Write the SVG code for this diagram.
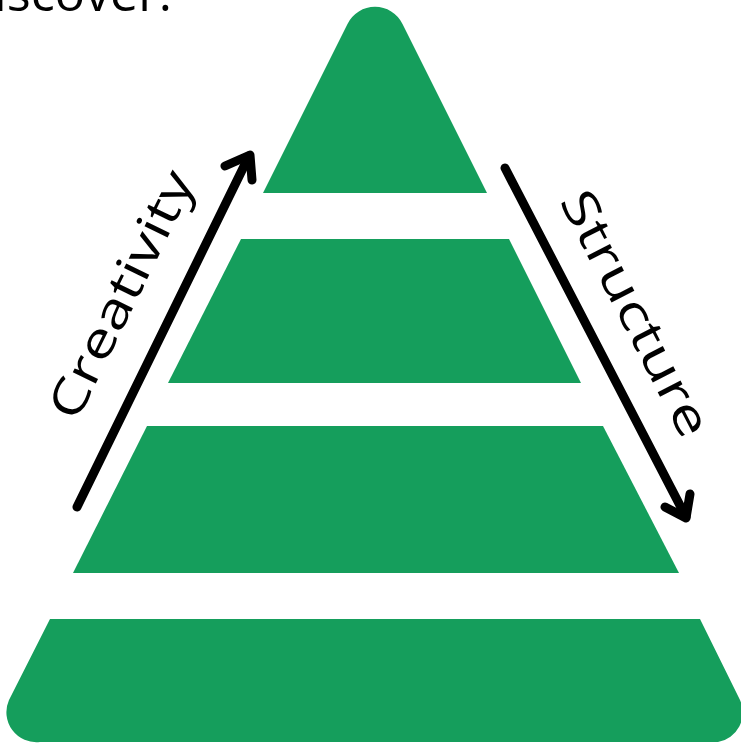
<svg xmlns="http://www.w3.org/2000/svg" width="741" height="746" viewBox="0 0 741 746">
<style>
.layer{fill:#159e5c}
.arrow{fill:none;stroke:#000;stroke-width:9;stroke-linecap:round;stroke-linejoin:round}
.lbl{font-family:"Open Sans","Liberation Sans",sans-serif;font-size:48px;fill:#000}
.top{font-family:"Open Sans","Liberation Sans",sans-serif;font-size:50px;fill:#000}
</style>
<rect width="741" height="746" fill="#fff"/>
<text class="top" x="-6" y="11" textLength="178" lengthAdjust="spacingAndGlyphs">iscover.</text>
<g id="layer1"><path class="layer" d="M263 193 L347.5 23.9 A30.7 30.7 0 0 1 402.5 23.9 L487 193 Z"/></g>
<g id="layer2"><path class="layer" d="M241 239 L509 239 L581 383 L168 383 Z"/></g>
<g id="layer3"><path class="layer" d="M147 426 L603 426 L679 573 L73 573 Z"/></g>
<g id="layer4"><path class="layer" d="M50 619 L700 619 L740 700 A30 30 0 0 1 718 742 L40 742 A30 30 0 0 1 9 700 Z"/></g>
<g id="connectors">
<g id="creativity">
<path class="arrow" d="M77 507 L249 156"/>
<path class="arrow" d="M225 166 L250 155 L252 180"/>
<text class="lbl" transform="translate(136 302) rotate(-63.8)" text-anchor="middle" textLength="270" lengthAdjust="spacingAndGlyphs">Creativity</text>
</g>
<g id="structure">
<path class="arrow" d="M505 168 L686 517"/>
<path class="arrow" d="M665 507 L686 518 L690 494"/>
<text class="lbl" transform="translate(621 321) rotate(62.7)" text-anchor="middle" textLength="270" lengthAdjust="spacingAndGlyphs">Structure</text>
</g>
</g>
</svg>
